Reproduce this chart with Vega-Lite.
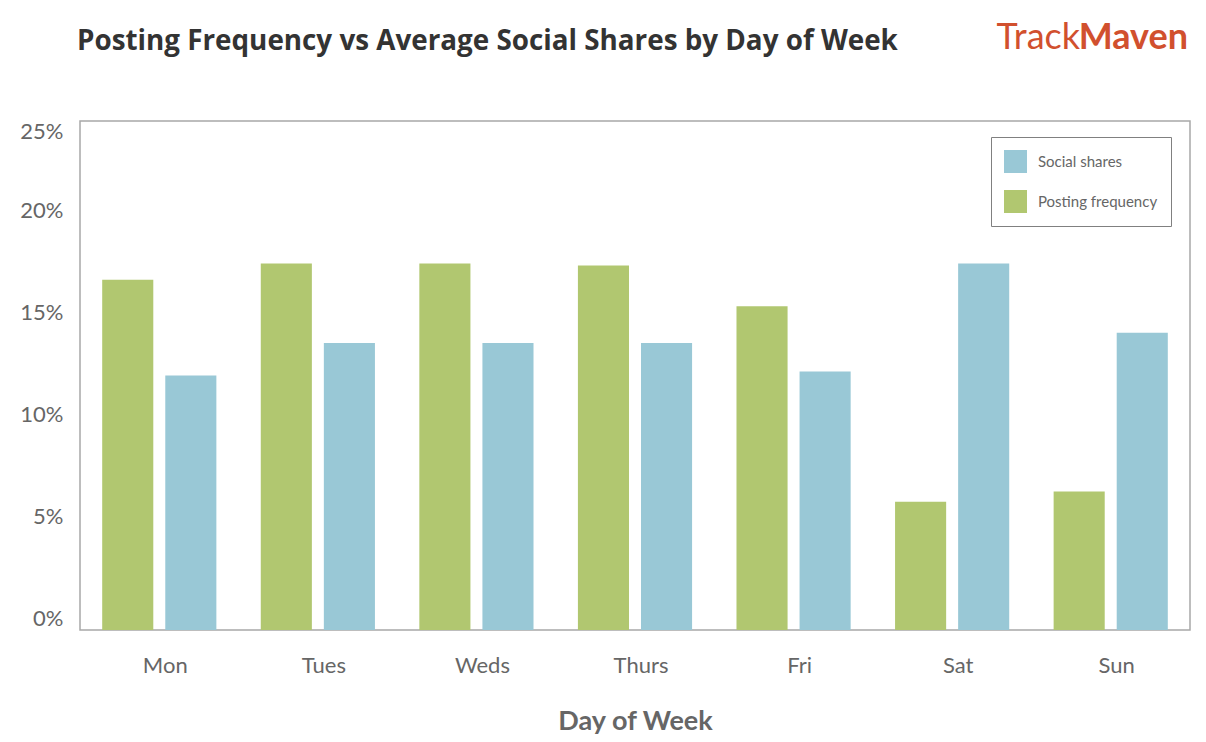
{
  "$schema": "https://vega.github.io/schema/vega-lite/v6.json",
  "width": 1110,
  "height": 509,
  "autosize": {"type": "none"},
  "padding": {"left": 80, "top": 121, "right": 16, "bottom": 112},
  "background": "white",
  "config": {
    "font": "Lato",
    "view": {"stroke": "#a8a8a8", "strokeWidth": 1.5}
  },
  "title": {
    "text": "Posting Frequency vs Average Social Shares by Day of Week",
    "anchor": "start",
    "frame": "group",
    "font": "Open Sans",
    "fontSize": 27.8,
    "fontWeight": "bold",
    "color": "#333333",
    "offset": -36,
    "dx": -3
  },
  "data": {
    "values": [
      {"day": "Mon", "series": "Posting frequency", "share": 0.172},
      {"day": "Mon", "series": "Social shares", "share": 0.125},
      {"day": "Tues", "series": "Posting frequency", "share": 0.180},
      {"day": "Tues", "series": "Social shares", "share": 0.141},
      {"day": "Weds", "series": "Posting frequency", "share": 0.180},
      {"day": "Weds", "series": "Social shares", "share": 0.141},
      {"day": "Thurs", "series": "Posting frequency", "share": 0.179},
      {"day": "Thurs", "series": "Social shares", "share": 0.141},
      {"day": "Fri", "series": "Posting frequency", "share": 0.159},
      {"day": "Fri", "series": "Social shares", "share": 0.127},
      {"day": "Sat", "series": "Posting frequency", "share": 0.063},
      {"day": "Sat", "series": "Social shares", "share": 0.180},
      {"day": "Sun", "series": "Posting frequency", "share": 0.068},
      {"day": "Sun", "series": "Social shares", "share": 0.146}
    ]
  },
  "layer": [
    {
      "mark": {"type": "bar"},
      "encoding": {
        "x": {
          "field": "day",
          "type": "nominal",
          "sort": ["Mon", "Tues", "Weds", "Thurs", "Fri", "Sat", "Sun"],
          "scale": {"paddingInner": 0.28, "paddingOuter": 0.14},
          "title": "Day of Week",
          "axis": {
            "domain": false,
            "ticks": false,
            "labelAngle": 0,
            "labelFontSize": 22,
            "labelColor": "#666666",
            "labelPadding": 25,
            "labelOffset": 6,
            "titleFontSize": 27,
            "titleFontWeight": "bold",
            "titleColor": "#666666",
            "titlePadding": 32
          }
        },
        "xOffset": {
          "field": "series",
          "sort": ["Posting frequency", "Social shares"],
          "scale": {"paddingInner": 0.19, "paddingOuter": 0}
        },
        "y": {
          "field": "share",
          "type": "quantitative",
          "scale": {"domain": [0, 0.25]},
          "title": null,
          "axis": {
            "values": [0, 0.05, 0.1, 0.15, 0.2, 0.25],
            "format": ".0%",
            "domain": false,
            "ticks": false,
            "grid": false,
            "labelFontSize": 22,
            "labelColor": "#666666",
            "labelPadding": 17,
            "labelBaseline": {"condition": {"test": "datum.value >= 0.25", "value": "top"}, "value": "bottom"}
          }
        },
        "color": {
          "field": "series",
          "type": "nominal",
          "scale": {
            "domain": ["Social shares", "Posting frequency"],
            "range": ["#99c8d6", "#b1c770"]
          },
          "legend": {
            "title": null,
            "orient": "none",
            "legendX": 911,
            "legendY": 16,
            "direction": "vertical",
            "symbolType": "square",
            "symbolSize": 529,
            "symbolStrokeWidth": 0,
            "symbolOpacity": 1,
            "labelFontSize": 15,
            "labelColor": "#666666",
            "labelOffset": 11,
            "rowPadding": 17,
            "padding": 13,
            "strokeColor": "#808080",
            "fillColor": "white"
          }
        }
      }
    },
    {
      "data": {"values": [{"logo": "Maven"}]},
      "mark": {
        "type": "text",
        "align": "right",
        "baseline": "alphabetic",
        "fontSize": 36,
        "fontWeight": "bold",
        "color": "#d1502e",
        "x": {"expr": "width - 2"},
        "y": -72
      },
      "encoding": {"text": {"field": "logo"}}
    },
    {
      "data": {"values": [{"logo": "Track"}]},
      "mark": {
        "type": "text",
        "align": "right",
        "baseline": "alphabetic",
        "fontSize": 36,
        "fontWeight": "normal",
        "color": "#d1502e",
        "x": {"expr": "width - 110"},
        "y": -72
      },
      "encoding": {"text": {"field": "logo"}}
    }
  ]
}
